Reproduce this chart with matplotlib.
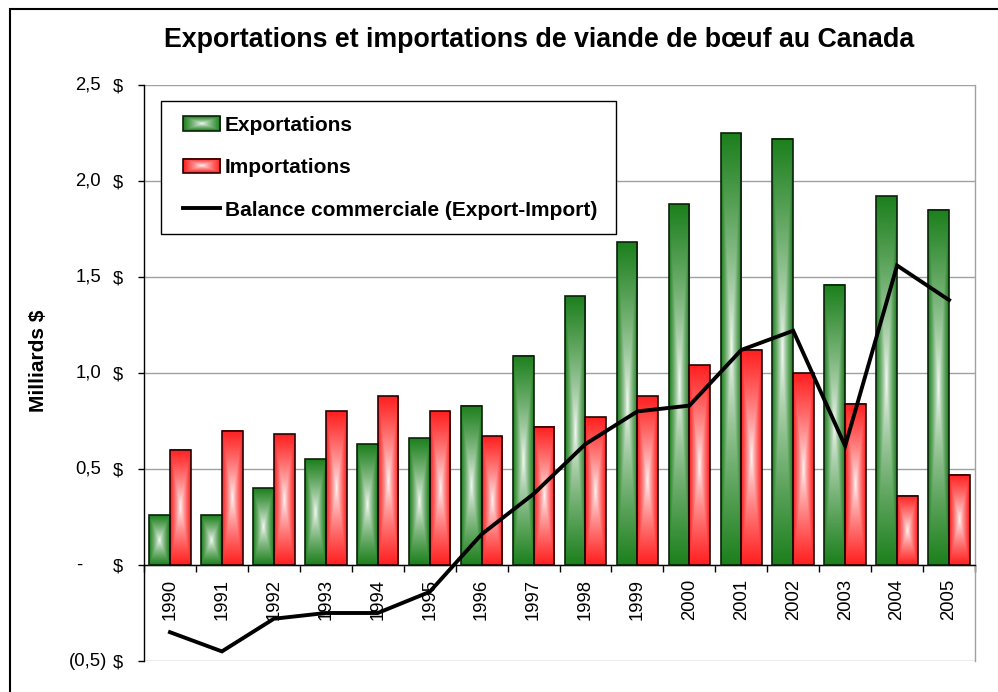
import matplotlib
matplotlib.use("Agg")
import matplotlib.pyplot as plt
import numpy as np
from matplotlib.patches import Rectangle
from matplotlib.lines import Line2D
from matplotlib.image import BboxImage
from matplotlib.transforms import Bbox, TransformedBbox
from matplotlib.legend_handler import HandlerBase

plt.rcParams["font.family"] = ["Liberation Sans", "DejaVu Sans"]

# data (milliards $)
years = [str(y) for y in range(1990, 2006)]
exportations = [0.26, 0.26, 0.40, 0.55, 0.63, 0.66, 0.83, 1.09,
                1.40, 1.68, 1.88, 2.25, 2.22, 1.46, 1.92, 1.85]
importations = [0.60, 0.70, 0.68, 0.80, 0.88, 0.80, 0.67, 0.72,
                0.77, 0.88, 1.04, 1.12, 1.00, 0.84, 0.36, 0.47]
balance = [-0.35, -0.45, -0.28, -0.25, -0.25, -0.14, 0.16, 0.37,
           0.63, 0.80, 0.83, 1.12, 1.22, 0.62, 1.56, 1.38]

y_ticks = [-0.5, 0.0, 0.5, 1.0, 1.5, 2.0, 2.5]
y_numbers = ["(0,5)", "-", "0,5", "1,0", "1,5", "2,0", "2,5"]

GREEN = (0.11, 0.50, 0.11)
RED = (1.0, 0.12, 0.12)

HANDLE_OFFSET = 0.16  # part of the legend handle box left empty


def center_gradient(rgb, nx=40, ny=300):
    # rectangular "from centre" shading: white in the middle, colour at the edges
    u = np.abs(np.linspace(-1, 1, nx))
    v = np.abs(np.linspace(-1, 1, ny))
    t = np.maximum(u[None, :], v[:, None]) ** 0.75
    return 1 - t[..., None] * (1 - np.array(rgb))


class GradientHandler(HandlerBase):
    def __init__(self, rgb, edge):
        super().__init__()
        self.rgb = rgb
        self.edge = edge

    def create_artists(self, legend, orig_handle, xdescent, ydescent,
                       width, height, fontsize, trans):
        x0 = -xdescent + width * HANDLE_OFFSET
        w = width * (1 - HANDLE_OFFSET)
        bb = TransformedBbox(Bbox.from_bounds(x0, -ydescent, w, height), trans)
        img = BboxImage(bb, interpolation="bilinear")
        img.set_data(center_gradient(self.rgb, nx=60, ny=20))
        rect = Rectangle((x0, -ydescent), w, height, facecolor="none",
                         edgecolor=self.edge, lw=1.2, transform=trans)
        return [img, rect]


class LineHandler(HandlerBase):
    def create_artists(self, legend, orig_handle, xdescent, ydescent,
                       width, height, fontsize, trans):
        x0 = -xdescent + width * HANDLE_OFFSET
        y = -ydescent + height / 2
        line = Line2D([x0, -xdescent + width], [y, y], color="black",
                      lw=2.8, transform=trans)
        return [line]


W, H = 998, 692
fig = plt.figure(figsize=(W / 100, H / 100), dpi=100)
fig.patch.set_facecolor("white")
ax = fig.add_axes([144 / W, 31 / H, 831 / W, 576 / H])

x = np.arange(len(years))
bw = 0.4

bars_exp = ax.bar(x - bw / 2, exportations, bw, facecolor="none",
                  edgecolor="#0a220a", lw=1.2, zorder=3)
bars_imp = ax.bar(x + bw / 2, importations, bw, facecolor="none",
                  edgecolor="#250404", lw=1.2, zorder=3)

for bars, rgb in [(bars_exp, GREEN), (bars_imp, RED)]:
    for p in bars:
        x0, w, h = p.get_x(), p.get_width(), p.get_height()
        ax.imshow(center_gradient(rgb), extent=(x0, x0 + w, 0, h),
                  aspect="auto", interpolation="bilinear", zorder=2)

ax.plot(x, balance, color="black", lw=2.8, zorder=4, solid_joinstyle="miter")

ax.set_xlim(-0.5, len(years) - 0.5)
ax.set_ylim(-0.5, 2.5)

# axes styling
ax.spines["bottom"].set_position(("data", 0))
ax.spines["bottom"].set_color("black")
ax.spines["left"].set_color("black")
ax.spines["right"].set_color("#a0a0a0")
ax.spines["top"].set_visible(False)
for s in ["bottom", "left", "right"]:
    ax.spines[s].set_linewidth(1.0)

ax.set_axisbelow(True)
ax.yaxis.grid(True, color="#a0a0a0", lw=1.0)

ax.set_xticks(x)
ax.set_xticklabels(years, rotation=90, fontsize=13.3)
ax.set_xticks(np.arange(-0.5, len(years)), minor=True)
ax.tick_params(axis="x", which="major", length=0, pad=10.0)
ax.tick_params(axis="x", which="minor", length=4.7, width=1.0, direction="out")

ax.set_yticks(y_ticks)
ax.set_yticklabels(["$"] * len(y_ticks), fontsize=13.3)
ax.tick_params(axis="y", length=4.3, width=1.0, pad=10.8)

for val, txt in zip(y_ticks, y_numbers):
    if txt == "-":
        ax.annotate(txt, xy=(0, val), xycoords=("axes fraction", "data"),
                    xytext=(-68, 0), textcoords="offset pixels",
                    ha="left", va="center", fontsize=13.3)
    elif txt.startswith("("):
        ax.annotate(txt, xy=(0, val), xycoords=("axes fraction", "data"),
                    xytext=(-37, 0), textcoords="offset pixels",
                    ha="right", va="center", fontsize=13.3)
    else:
        ax.annotate(txt, xy=(0, val), xycoords=("axes fraction", "data"),
                    xytext=(-43, 0), textcoords="offset pixels",
                    ha="right", va="center", fontsize=13.3)

fig.text(539 / W, 1 - 46.7 / H,
         "Exportations et importations de viande de bœuf au Canada",
         ha="center", va="baseline", fontsize=19.3, fontweight="bold")
fig.text(38 / W, 1 - 361 / H, "Milliards $", rotation=90,
         ha="center", va="center", fontsize=15, fontweight="bold")

# legend
h_exp = Rectangle((0, 0), 1, 1)
h_imp = Rectangle((0, 0), 1, 1)
h_bal = Line2D([], [])
leg = ax.legend(
    [h_exp, h_imp, h_bal],
    ["Exportations", "Importations", "Balance commerciale (Export-Import)"],
    handler_map={h_exp: GradientHandler(GREEN, "#0a220a"),
                 h_imp: GradientHandler(RED, "#250404"),
                 h_bal: LineHandler()},
    loc="upper left",
    bbox_to_anchor=(161 / W, 1 - 233 / H, 455 / W, 132 / H),
    bbox_transform=fig.transFigure,
    mode="expand", borderaxespad=0, borderpad=0.7,
    handlelength=2.12, handletextpad=0.24, labelspacing=1.13,
    fancybox=False, framealpha=1, edgecolor="black",
    prop={"size": 15, "weight": "bold"},
)
leg.get_frame().set_linewidth(1.0)
leg.set_zorder(5)

# outer chart frame (only top and left edges fall inside the image)
fig.add_artist(Rectangle((10 / W, -0.1), 2, 1.1 - 9.5 / H,
                         transform=fig.transFigure, fill=False,
                         edgecolor="black", lw=1.5))

fig.savefig("out.png", dpi=100)
